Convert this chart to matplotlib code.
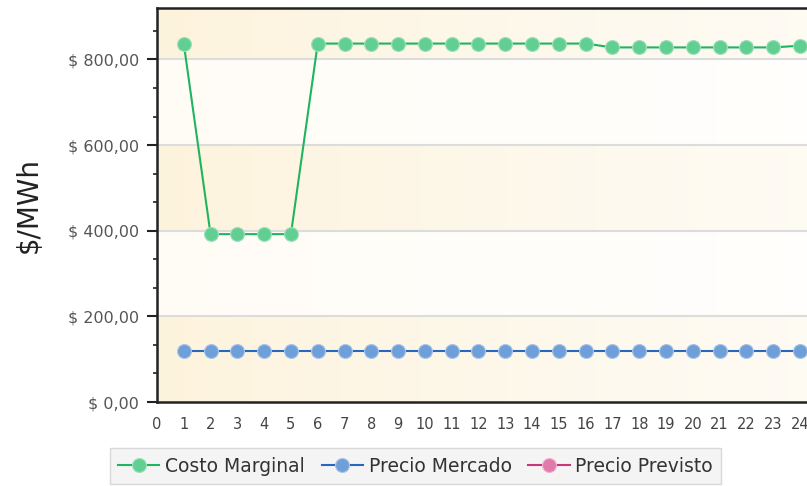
import numpy as np
import matplotlib
matplotlib.use("Agg")
import matplotlib.pyplot as plt
from matplotlib.ticker import FuncFormatter, MultipleLocator

# datos por hora
horas = list(range(1, 25))
costo_marginal = [837, 392, 392, 392, 392, 837, 837, 837, 837, 837, 837, 837,
                  837, 837, 837, 837, 828, 828, 828, 828, 828, 828, 828, 832]
precio_mercado = [120] * 24
precio_previsto = []  # sin datos

fig = plt.figure(figsize=(8.07, 4.86), dpi=100)
ax = fig.add_axes([0.1945, 0.1728, 0.83, 0.8107])

ymax = 920
xmax = 25

# fondo con bandas y degradado horizontal
ny, nx = 460, 200
yy = np.linspace(0, ymax, ny)
xx = np.linspace(0, 1, nx)
crema = np.array([0.992, 0.953, 0.862])
claro = np.array([1.0, 0.990, 0.965])
blanco = np.array([1.0, 1.0, 1.0])
img = np.zeros((ny, nx, 3))
for i, yv in enumerate(yy):
    base = crema if int(yv // 200) % 2 == 0 else claro
    t = xx[:, None] ** 0.8
    img[i] = base * (1 - t) + (0.3 * base + 0.7 * blanco) * t
ax.imshow(img, extent=[0, xmax, 0, ymax], origin="lower", aspect="auto", zorder=0)

ax.set_xlim(0, xmax)
ax.set_ylim(0, ymax)

# lineas de referencia
for g in range(200, ymax, 200):
    ax.axhline(g, color="#dcdcdc", lw=1.5, zorder=1)

ax.plot(horas, costo_marginal, color="#1fb45f", lw=1.5, marker="o", markersize=10,
        markerfacecolor="#62cf92", markeredgecolor="#9fe0bb", markeredgewidth=0.8,
        zorder=3, label="Costo Marginal")
ax.plot(horas, precio_mercado, color="#2767bd", lw=1.5, marker="o", markersize=10,
        markerfacecolor="#6f9fd8", markeredgecolor="#a8c4e8", markeredgewidth=0.8,
        zorder=3, label="Precio Mercado")
ax.plot(precio_previsto, precio_previsto, color="#c8377c", lw=1.5, marker="o", markersize=10,
        markerfacecolor="#e07aaa", markeredgecolor="#f0b0cc", markeredgewidth=0.8,
        zorder=3, label="Precio Previsto")

# ejes
ax.xaxis.set_major_locator(MultipleLocator(1))
ax.yaxis.set_major_locator(MultipleLocator(200))
ax.yaxis.set_minor_locator(MultipleLocator(200 / 3))
ax.yaxis.set_major_formatter(FuncFormatter(lambda v, p: "$ {:,.2f}".format(v).replace(".", "#").replace(",", ".").replace("#", ",")))
ax.tick_params(axis="y", which="major", length=7, width=1.5, color="#222222",
               labelsize=11.5, labelcolor="#555555", pad=6)
ax.tick_params(axis="y", which="minor", length=3, width=1.2, color="#222222")
ax.tick_params(axis="x", length=0, labelsize=10.5, labelcolor="#444444", pad=11)

for s in ["left", "bottom", "top"]:
    ax.spines[s].set_linewidth(1.8)
    ax.spines[s].set_color("#222222")
ax.spines["right"].set_visible(False)

ax.set_ylabel("$/MWh", fontsize=20, color="#222222")
ax.yaxis.set_label_coords(-0.17, 0.5)

leg = fig.legend(loc="upper left", bbox_to_anchor=(0.136, 0.078), ncol=3,
                 fontsize=13.5, frameon=True, fancybox=False, handlelength=2.2,
                 handletextpad=0.3, columnspacing=0.9, borderpad=0.45,
                 borderaxespad=0)
leg.get_frame().set_facecolor("#f2f2f2")
leg.get_frame().set_edgecolor("#d0d0d0")
for t in leg.get_texts():
    t.set_color("#333333")

fig.savefig("out.png", dpi=100)
